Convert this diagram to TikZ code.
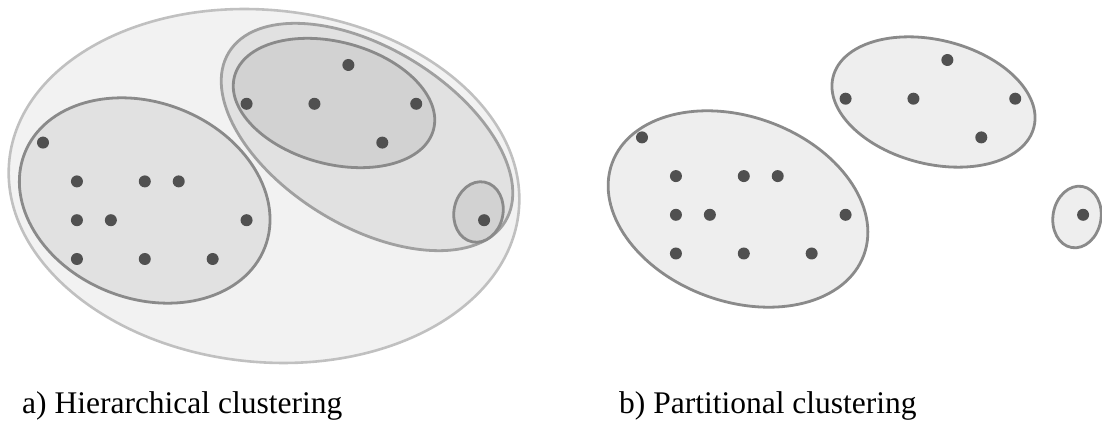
\documentclass[tikz,border=0pt]{standalone}
\usepackage{fontspec}
\setmainfont{Liberation Serif}
\newfontfamily\captionserif{Liberation Serif}
\definecolor{dotgray}{HTML}{505050}
\definecolor{outerfill}{HTML}{F2F2F2}
\definecolor{outerline}{HTML}{C0C0C0}
\definecolor{midfill}{HTML}{E1E1E1}
\definecolor{midline}{HTML}{A0A0A0}
\definecolor{innerfill}{HTML}{D2D2D2}
\definecolor{clusterline}{HTML}{8A8A8A}
\definecolor{partfill}{HTML}{EEEEEE}
\tikzset{
  outerset/.style={fill=outerfill, draw=outerline, line width=2.6pt},
  midset/.style={fill=midfill, draw=midline, line width=2.8pt},
  groupset/.style={fill=midfill, draw=clusterline, line width=2.8pt},
  innerset/.style={fill=innerfill, draw=clusterline, line width=2.8pt},
  partset/.style={fill=partfill, draw=clusterline, line width=2.8pt},
  datapoint/.style={fill=dotgray},
  caption/.style={anchor=base west, inner sep=0pt, font=\captionserif\fontsize{31.5}{36}\selectfont}
}
\begin{document}
\begin{tikzpicture}[x=1pt, y=1pt]
\useasboundingbox (0,0) rectangle (1102,423);

% ---------- hierarchical clustering ----------
\path[outerset] (264,237) [rotate around={-5.7:(264,237)}] ellipse [x radius=256, y radius=176];
\path[groupset] (144.7,222.5) [rotate around={-21.4:(144.7,222.5)}] ellipse [x radius=129, y radius=98];
\path[midset] (367,286) [rotate around={-31.5:(367,286)}] ellipse [x radius=162, y radius=89];
\path[innerset] (334,320) [rotate around={-15:(334,320)}] ellipse [x radius=103, y radius=61];
\path[innerset] (478.5,211) [rotate around={-12:(478.5,211)}] ellipse [x radius=24.5, y radius=30.5];

\foreach \i/\j in {0/2,1/3,3/3,4/3,1/4,2/4,6/4,1/5,3/5,5/5,9/0,6/1,8/1,11/1,10/2,13/4}
  \fill[datapoint] ({43+33.93*\i},{358-38.8*\j}) circle (6);

% ---------- partitional clustering ----------
\path[partset] (738,214) [rotate around={-20:(738,214)}] ellipse [x radius=134, y radius=92.4];
\path[partset] (933.5,321) [rotate around={-14:(933.5,321)}] ellipse [x radius=103.5, y radius=62];
\path[partset] (1077,206) [rotate around={-10:(1077,206)}] ellipse [x radius=24, y radius=31];

\foreach \i/\j in {0/2,1/3,3/3,4/3,1/4,2/4,6/4,1/5,3/5,5/5,9/0,6/1,8/1,11/1,10/2,13/4}
  \fill[datapoint] ({642+33.93*\i},{363-38.7*\j}) circle (6);

% ---------- captions ----------
\node[caption] (capA) at (22,10) {a) Hierarchical clustering};
\node[caption] (capB) at (619,10) {b) Partitional clustering};
\end{tikzpicture}
\end{document}
